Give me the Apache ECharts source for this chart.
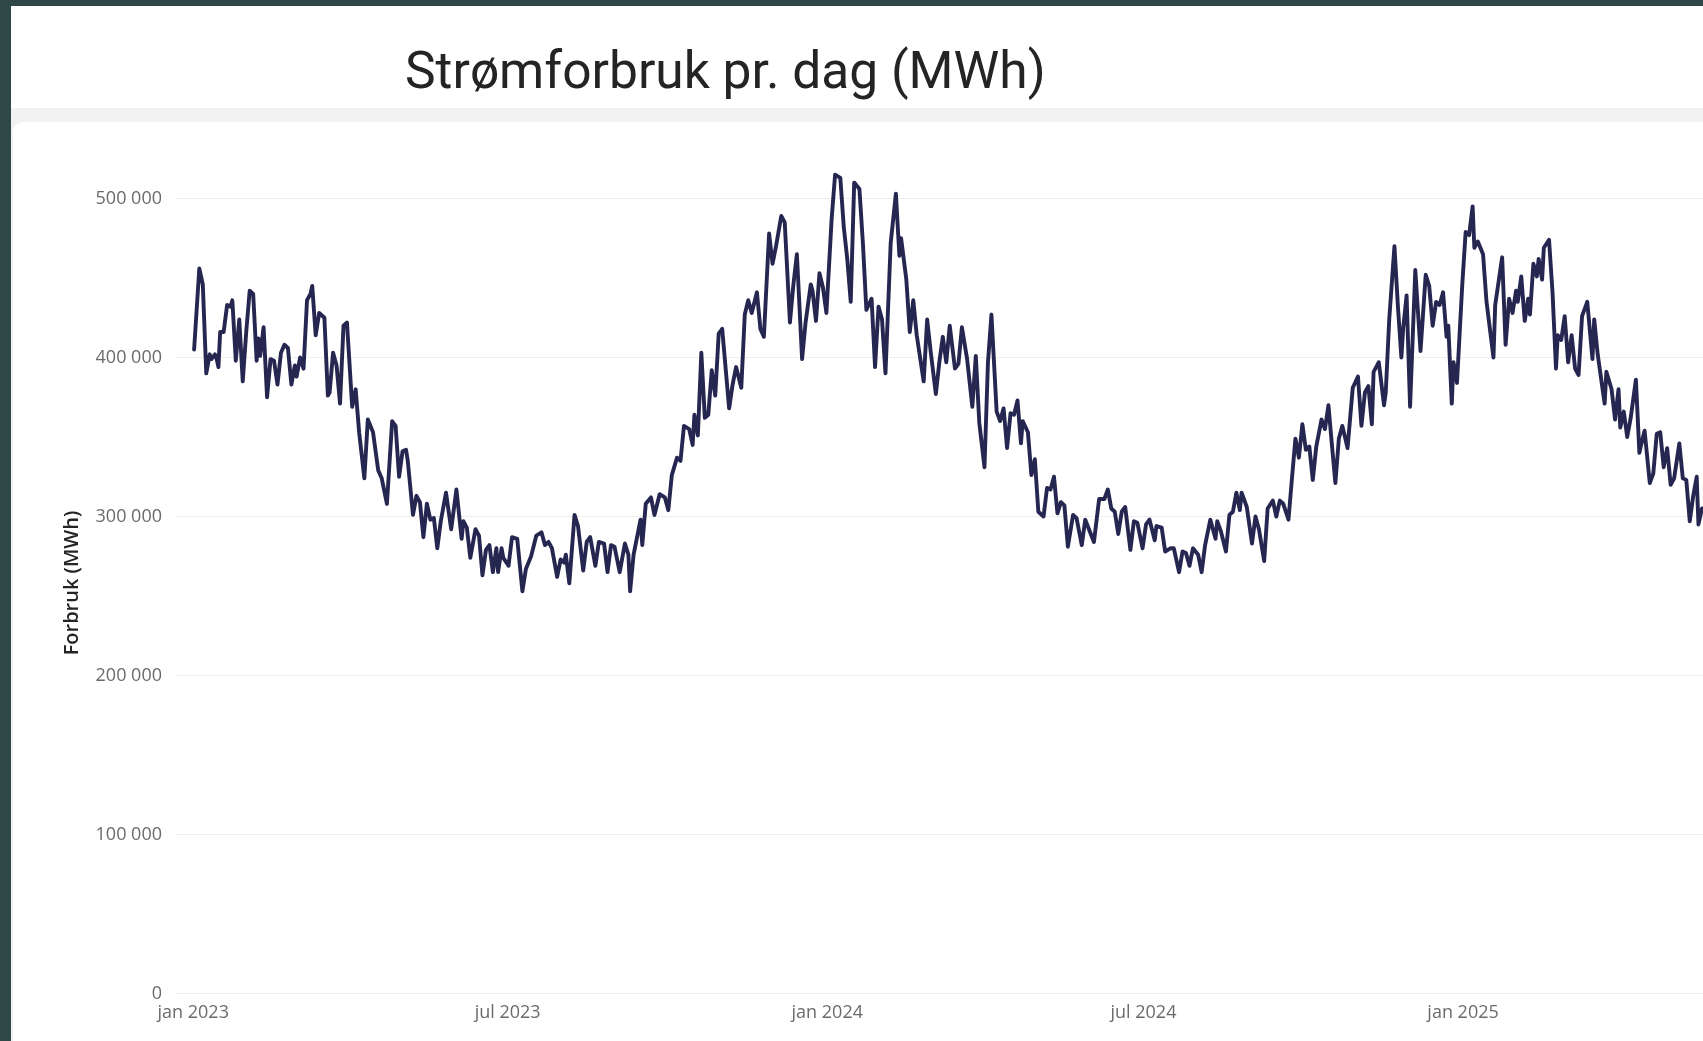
<!DOCTYPE html>
<html>
<head>
<meta charset="utf-8">
<script src="https://cdn.jsdelivr.net/npm/echarts@6/dist/echarts.min.js"></script>
<style>
  html, body { margin: 0; padding: 0; width: 1703px; height: 1041px; overflow: hidden; background: #2f4747; }
  #gray { position: absolute; left: 11px; top: 6px; right: 0; bottom: 0; background: #f2f2f2; }
  #titlebox { position: absolute; left: 11px; top: 6px; right: 0; height: 102px; background: #ffffff; }
  #panel { position: absolute; left: 13px; top: 122px; right: 0; bottom: 0; background: #ffffff; border-top-left-radius: 10px; }
  #chart { position: absolute; left: 0; top: 0; width: 1703px; height: 1041px; }
</style>
</head>
<body>
<div id="gray"></div>
<div id="titlebox"></div>
<div id="panel"></div>
<div id="chart"></div>
<script>
// Title and axis texts
const chartTitle = 'Strømforbruk pr. dag (MWh)';
const yAxisTitle = 'Forbruk (MWh)';
const monthNames = ['jan','feb','mar','apr','mai','jun','jul','aug','sep','okt','nov','des'];
// months that carry an x-axis label (jan, jul)
const labelMonths = [0, 6];
const yTicks = [0, 100000, 200000, 300000, 400000, 500000];

// Series: days since 2023-01-01 and daily consumption (MWh)
const startDate = [2023, 0, 1];
const dayOffsets = [
  0,3,5,7,9,10,12,13,14,15,17,19,21,22,24,26,28,30,32,34,36,37,38,40,42,44,46,48,50,52,54,56,58,59,61,63,65,67,68,70,
  72,75,77,78,80,82,84,86,88,91,93,95,98,100,103,106,108,111,114,116,118,120,122,123,126,128,130,132,134,136,138,140,142,145,148,151,154,155,157,159,
  162,164,166,168,170,172,174,175,177,178,181,183,186,189,191,194,197,200,202,204,206,209,211,213,214,216,219,221,224,226,228,231,233,236,238,240,242,245,248,250,
  251,253,257,258,260,263,265,268,271,273,275,278,280,282,285,287,288,290,292,294,296,298,300,302,304,308,310,312,315,317,319,321,324,326,328,331,333,335,338,340,
  343,345,347,350,352,355,356,358,360,362,364,367,369,372,374,376,378,380,383,385,387,390,392,394,396,398,401,404,406,407,410,412,414,416,420,422,424,427,429,431,
  433,435,438,440,442,445,448,450,452,455,457,459,462,464,466,468,470,472,474,476,477,480,482,484,486,489,491,493,495,497,499,501,503,506,508,511,513,518,521,524,
  526,528,530,532,534,536,539,541,543,546,548,550,553,554,557,559,562,564,567,569,571,573,575,578,580,582,585,588,589,591,594,596,598,600,602,603,606,609,611,613,
  616,618,621,623,625,627,630,632,634,636,638,640,642,644,646,649,651,653,655,657,659,661,664,667,668,670,672,674,676,678,679,682,685,686,688,691,693,695,696,698,
  700,703,706,709,711,713,715,717,719,721,722,724,725,727,730,732,734,736,737,739,742,744,748,749,751,753,755,757,759,761,762,764,766,768,769,771,773,774,776,777,
  780,782,784,785,787,789,791,793,795,797,799,802,805,806,808,812,813,816,818,820,821,823,825,827,830,832,833,835,838,840,842,844,846,848,850,852,855,857,859,861,
  863,865,866,868,869
];
const consumption = [
  405000,456000,446000,390000,402000,399000,402000,399000,394000,416000,416000,433000,432000,436000,398000,424000,385000,416000,442000,440000,398000,412000,401000,419000,375000,399000,398000,383000,403000,408000,406000,383000,395000,388000,400000,393000,436000,440000,445000,414000,
  428000,425000,376000,378000,403000,395000,371000,420000,422000,369000,380000,353000,324000,361000,353000,329000,324000,308000,360000,357000,325000,341000,342000,335000,301000,313000,309000,287000,308000,298000,299000,280000,297000,315000,292000,317000,286000,297000,293000,274000,
  292000,288000,263000,279000,282000,265000,280000,265000,280000,274000,269000,287000,286000,253000,267000,275000,288000,290000,282000,284000,280000,262000,273000,271000,276000,258000,301000,294000,266000,284000,287000,269000,284000,283000,265000,282000,281000,265000,283000,276000,
  253000,276000,298000,282000,308000,312000,301000,314000,312000,304000,326000,337000,335000,357000,355000,345000,364000,351000,403000,362000,364000,392000,376000,415000,418000,368000,383000,394000,381000,427000,436000,428000,441000,418000,413000,478000,459000,470000,489000,485000,
  422000,446000,465000,399000,422000,446000,442000,423000,453000,444000,428000,487000,515000,513000,482000,462000,435000,510000,506000,472000,430000,437000,394000,432000,424000,390000,472000,503000,464000,475000,449000,416000,436000,414000,385000,424000,404000,377000,397000,413000,
  397000,420000,393000,396000,419000,399000,369000,401000,359000,331000,397000,427000,366000,360000,368000,343000,365000,364000,373000,346000,360000,353000,326000,336000,303000,300000,318000,317000,325000,302000,309000,307000,281000,301000,299000,282000,298000,284000,311000,311000,
  317000,305000,303000,289000,303000,306000,279000,297000,296000,280000,295000,298000,285000,294000,293000,278000,280000,280000,265000,278000,277000,269000,280000,276000,265000,282000,298000,286000,297000,291000,278000,301000,303000,315000,304000,315000,306000,283000,300000,292000,
  272000,305000,310000,300000,310000,308000,298000,324000,349000,337000,358000,342000,344000,323000,344000,361000,355000,370000,345000,321000,349000,357000,343000,381000,382000,388000,357000,378000,382000,358000,391000,397000,370000,378000,424000,470000,432000,400000,418000,439000,
  369000,455000,404000,452000,445000,420000,435000,433000,441000,413000,420000,371000,397000,384000,445000,479000,477000,495000,469000,473000,465000,435000,400000,433000,448000,463000,408000,437000,428000,442000,435000,451000,423000,437000,427000,459000,451000,462000,449000,469000,
  474000,441000,393000,414000,411000,426000,397000,414000,393000,389000,426000,435000,399000,424000,402000,371000,391000,380000,361000,380000,356000,366000,350000,362000,386000,340000,345000,354000,321000,327000,352000,353000,331000,343000,320000,324000,346000,324000,323000,297000,
  313000,325000,295000,305000,305000
];

function dayToTime(d) {
  return new Date(startDate[0], startDate[1], startDate[2] + d, 12).getTime();
}
const seriesData = dayOffsets.map((d, i) => [dayToTime(d), consumption[i]]);
const xMin = new Date(2022, 11, 21, 12).getTime();
const xMax = new Date(2023, 0, 1 + 869, 3).getTime();

function fmtThousands(v) {
  return String(v).replace(/\B(?=(\d{3})+(?!\d))/g, ' ');
}

const chart = echarts.init(document.getElementById('chart'), null, { renderer: 'canvas' });
const labelColor = '#6b6b6b';
const fontFam = '"Open Sans", "Noto Sans", sans-serif';
chart.setOption({
  animation: false,
  backgroundColor: 'transparent',
  title: {
    text: chartTitle,
    left: 400,
    top: 44,
    textStyle: { fontFamily: 'Roboto, "Open Sans", sans-serif', fontSize: 51.5, fontWeight: 'normal', color: '#252423' }
  },
  grid: { left: 175, right: 0, top: 198.5, bottom: 47.5, containLabel: false },
  xAxis: {
    type: 'time',
    min: xMin,
    max: xMax,
    axisLine: { show: false },
    axisTick: { show: false },
    splitLine: { show: false },
    axisLabel: {
      color: labelColor,
      fontFamily: fontFam,
      fontSize: 18,
      margin: 10,
      hideOverlap: false,
      showMinLabel: false,
      showMaxLabel: false,
      formatter: function (v) {
        const d = new Date(v);
        if (d.getDate() !== 1 || d.getHours() !== 0 || labelMonths.indexOf(d.getMonth()) < 0) return '';
        return monthNames[d.getMonth()] + ' ' + d.getFullYear();
      }
    }
  },
  yAxis: {
    type: 'value',
    min: yTicks[0],
    max: yTicks[yTicks.length - 1],
    interval: yTicks[1] - yTicks[0],
    name: yAxisTitle,
    nameLocation: 'middle',
    nameGap: 93,
    nameRotate: 90,
    nameTextStyle: { fontFamily: fontFam, fontSize: 20, fontWeight: 600, color: '#252423', padding: [0, 0, 0, 26] },
    axisLine: { show: false },
    axisTick: { show: false },
    axisLabel: {
      color: labelColor,
      fontFamily: fontFam,
      fontSize: 18,
      margin: 13,
      formatter: fmtThousands
    },
    splitLine: { lineStyle: { color: '#eeeeee', width: 1 } }
  },
  series: [{
    type: 'line',
    data: seriesData,
    showSymbol: false,
    clip: false,
    smooth: false,
    lineStyle: { width: 3.9, color: '#252750', join: 'round', cap: 'round' },
    itemStyle: { color: '#252750' }
  }]
});
</script>
</body>
</html>
